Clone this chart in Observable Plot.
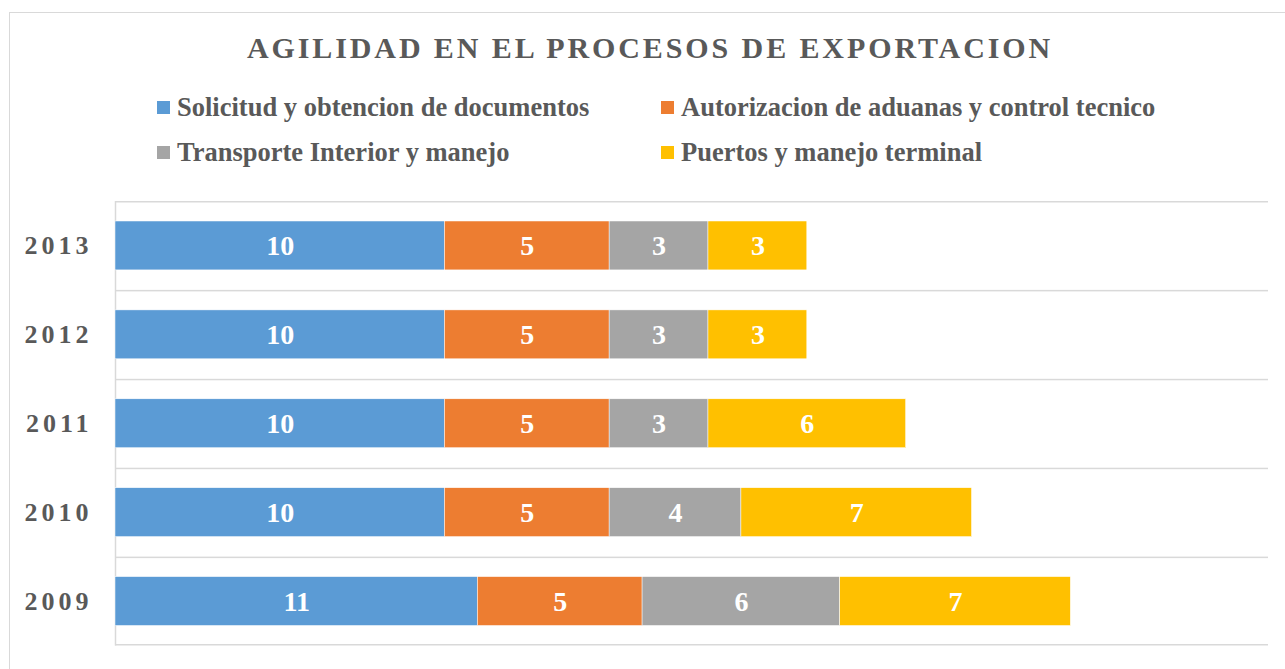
<!DOCTYPE html>
<html>
<head>
<meta charset="utf-8">
<script src="https://cdn.jsdelivr.net/npm/d3@7"></script>
<script src="https://cdn.jsdelivr.net/npm/@observablehq/plot@0.6"></script>
<style>
  html, body { margin: 0; padding: 0; background: #fff; overflow: hidden; }
  body { width: 1285px; height: 669px; position: relative; font-family: "Liberation Serif", "DejaVu Serif", serif; }
  #frame { position: absolute; left: 9px; top: 12px; width: 1290px; height: 700px; border: 1px solid #D9D9D9; box-sizing: border-box; }
  #title { position: absolute; left: 9px; width: 1282px; top: 31px; text-align: center; font-size: 30px; font-weight: bold; color: #595959; letter-spacing: 2.9px; line-height: 34px; white-space: nowrap; }
  .leg { position: absolute; font-size: 26.5px; font-weight: bold; color: #595959; line-height: 28px; white-space: nowrap; }
  .sw { display: inline-block; width: 13px; height: 13px; margin-right: 7px; vertical-align: 2px; }
  #chart { position: absolute; left: 0; top: 190px; }
  #chart svg { display: block; }
  #chart g[aria-label^="y-axis"] text { letter-spacing: 4px; }
</style>
</head>
<body>
<div id="frame"></div>
<div id="title">AGILIDAD EN EL PROCESOS DE EXPORTACION</div>
<div id="legend"></div>
<div id="chart"></div>
<script>
const years = ["2013", "2012", "2011", "2010", "2009"];
const series = [
  "Solicitud y obtencion de documentos",
  "Autorizacion de aduanas y control tecnico",
  "Transporte Interior y manejo",
  "Puertos y manejo terminal"
];
const solicitud = [10, 10, 10, 10, 11];
const autorizacion = [5, 5, 5, 5, 5];
const transporte = [3, 3, 3, 4, 6];
const puertos = [3, 3, 6, 7, 7];
const colors = ["#5B9BD5", "#ED7D31", "#A5A5A5", "#FFC000"];

const seriesValues = [solicitud, autorizacion, transporte, puertos];
const data = years.flatMap((y, i) => series.map((s, j) => ({year: y, series: s, value: seriesValues[j][i]})));

const legPos = [[157, 93], [661, 93], [157, 138], [661, 138]];
const legend = document.getElementById("legend");
series.forEach((s, j) => {
  const d = document.createElement("div");
  d.className = "leg";
  d.style.left = legPos[j][0] + "px";
  d.style.top = legPos[j][1] + "px";
  d.innerHTML = `<span class="sw" style="background:${colors[j]}"></span>${s}`;
  legend.appendChild(d);
});

const H = 479, mt = 11, mb = 23.5;
const bw = (H - mt - mb) / years.length;
const FONT = '"Liberation Serif", "DejaVu Serif", serif';

const chart = Plot.plot({
  width: 1285,
  height: H,
  marginLeft: 115,
  marginRight: 17,
  marginTop: mt,
  marginBottom: mb,
  x: {domain: [0, 35], axis: null},
  y: {domain: years, padding: 0, round: false, label: null, tickSize: 0, tickPadding: 23},
  color: {domain: series, range: colors},
  style: {fontFamily: FONT, fontSize: "26px", fontWeight: "bold", color: "#595959", background: "transparent"},
  marks: [
    Plot.barX(years, {x1: 0, x2: 35, y: d => d, fill: "#D9D9D9", insetBottom: bw - 1.5}),
    Plot.barX([years[years.length - 1]], {x1: 0, x2: 35, y: d => d, fill: "#D9D9D9", insetTop: bw - 1.5}),
    Plot.ruleX([0], {stroke: "#D9D9D9", strokeWidth: 1.5}),
    Plot.barX(data, Plot.stackX({x: "value", y: "year", fill: "series", insetTop: 20, insetBottom: 20, stroke: "white", strokeWidth: 0.5})),
    Plot.text(data, Plot.stackX({x: "value", y: "year", z: "series", text: "value", fill: "white", fontSize: 28, fontWeight: "bold"}))
  ]
});
document.getElementById("chart").appendChild(chart);
</script>
</body>
</html>
